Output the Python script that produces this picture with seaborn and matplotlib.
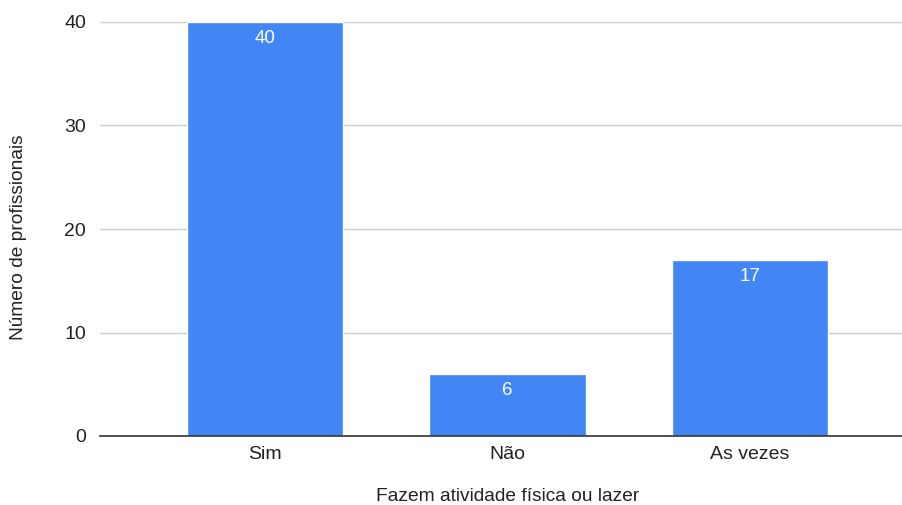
import matplotlib
matplotlib.use("Agg")
import matplotlib.pyplot as plt
import seaborn as sns
import pandas as pd

categorias = ["Sim", "Não", "As vezes"]
valores = [40, 6, 17]
yticks = [0, 10, 20, 30, 40]

df = pd.DataFrame({"categoria": categorias, "valor": valores})

sns.set_style("white")
plt.rcParams["font.family"] = ["Liberation Sans", "DejaVu Sans"]

fig = plt.figure(figsize=(9.03, 5.05), dpi=100)
ax = fig.add_axes([100 / 903, 1 - 436 / 505, 803 / 903, (436 - 22) / 505])

sns.barplot(data=df, x="categoria", y="valor", color="#4285F4", saturation=1,
            width=0.645, ax=ax, zorder=3)

# rótulos dentro das barras
for i, v in enumerate(valores):
    ax.text(i, v - 0.75, str(v), ha="center", va="top", color="white", fontsize=13.5, zorder=4)

ax.set_ylim(0, 40)
ax.set_xlim(-0.68, 2.63)
ax.set_yticks(yticks)
ax.yaxis.grid(True, color="#cccccc", linewidth=1, zorder=0)
for s in ["top", "right", "left"]:
    ax.spines[s].set_visible(False)
ax.spines["bottom"].set_color("#333333")
ax.spines["bottom"].set_linewidth(1.2)
ax.spines["bottom"].set_zorder(5)
ax.tick_params(axis="both", length=0, labelsize=14, colors="#222222")
ax.tick_params(axis="x", pad=7)
ax.tick_params(axis="y", pad=10)
ax.set_xlabel("Fazem atividade física ou lazer", fontsize=13.8, color="#222222")
ax.set_ylabel("Número de profissionais", fontsize=13.8, color="#222222")
ax.xaxis.label.set_va("center")
ax.yaxis.label.set_va("center")
ax.xaxis.set_label_coords(0.508, -0.147)
ax.yaxis.set_label_coords(-0.102, 0.48)

fig.savefig("out.png", dpi=100)
